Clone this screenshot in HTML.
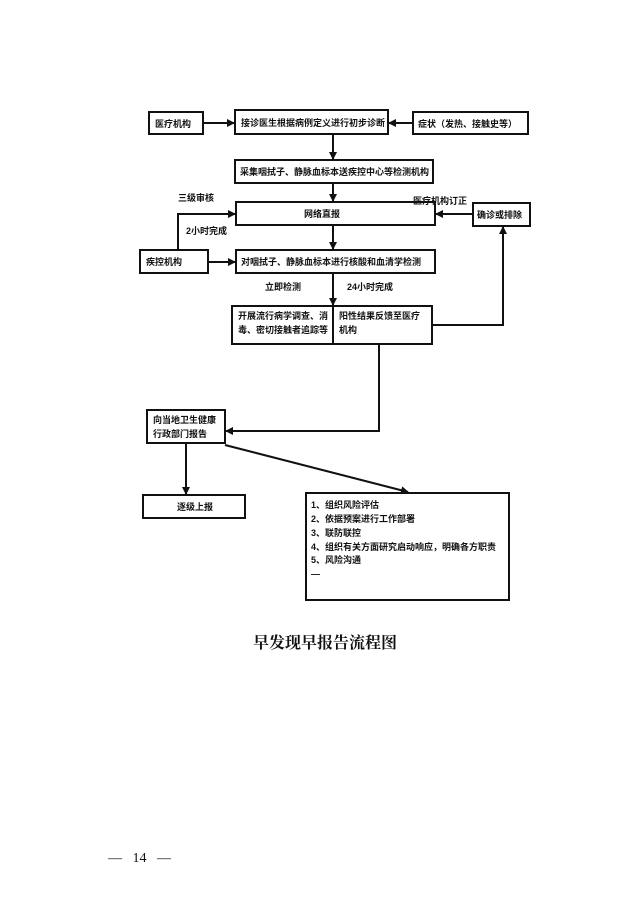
<!DOCTYPE html>
<html><head><meta charset="utf-8"><style>
body{margin:0;background:#fff;}
svg text{font-family:"Liberation Sans","Noto Sans CJK SC",sans-serif;font-weight:bold;fill:#111;}
</style></head><body>
<svg width="639" height="906" viewBox="0 0 639 906" xmlns="http://www.w3.org/2000/svg">
<defs><marker id="a" markerWidth="8" markerHeight="8" refX="7" refY="4" orient="auto" markerUnits="userSpaceOnUse"><path d="M0,0 L8,4 L0,8 z" fill="#111"/></marker></defs>
<g fill="none" stroke="#111" stroke-width="2">
<rect x="149" y="112" width="54" height="22"/>
<rect x="235" y="110" width="153" height="24"/>
<rect x="413" y="112" width="115" height="22"/>
<rect x="235" y="160" width="198" height="23"/>
<rect x="236" y="202" width="199" height="23"/>
<rect x="473" y="203" width="57" height="23"/>
<rect x="140" y="250" width="68" height="23"/>
<rect x="236" y="250" width="199" height="23"/>
<rect x="232" y="306" width="200" height="38"/>
<line x1="333" y1="306" x2="333" y2="344"/>
<rect x="147" y="410" width="78" height="33"/>
<rect x="143" y="495" width="102" height="23"/>
<rect x="306" y="493" width="203" height="107"/>
</g>
<g fill="none" stroke="#111" stroke-width="2" marker-end="url(#a)">
<line x1="203" y1="123" x2="234" y2="123"/>
<line x1="413" y1="123" x2="389" y2="123"/>
<line x1="333" y1="134" x2="333" y2="159"/>
<line x1="333" y1="183" x2="333" y2="201"/>
<line x1="473" y1="214" x2="436" y2="214"/>
<polyline points="178,250 178,214 235,214"/>
<line x1="333" y1="225" x2="333" y2="249"/>
<line x1="208" y1="262" x2="235" y2="262"/>
<line x1="333" y1="273" x2="333" y2="305"/>
<polyline points="432,325 503,325 503,227"/>
<polyline points="379,344 379,431 226,431"/>
<line x1="186" y1="443" x2="186" y2="494"/>
<line x1="225" y1="445" x2="408" y2="492"/>
</g>
<g font-size="9">
<text x="155" y="127">医疗机构</text>
<text x="241" y="126">接诊医生根据病例定义进行初步诊断</text>
<text x="418" y="127">症状（发热、接触史等）</text>
<text x="240" y="175">采集咽拭子、静脉血标本送疾控中心等检测机构</text>
<text x="178" y="201">三级审核</text>
<text x="304" y="217">网络直报</text>
<text x="413" y="204">医疗机构订正</text>
<text x="477" y="218">确诊或排除</text>
<text x="186" y="234">2小时完成</text>
<text x="146" y="265">疾控机构</text>
<text x="241" y="265">对咽拭子、静脉血标本进行核酸和血清学检测</text>
<text x="265" y="290">立即检测</text>
<text x="347" y="290">24小时完成</text>
<text x="238" y="319">开展流行病学调查、消</text>
<text x="238" y="333">毒、密切接触者追踪等</text>
<text x="339" y="319">阳性结果反馈至医疗</text>
<text x="339" y="333">机构</text>
<text x="153" y="423">向当地卫生健康</text>
<text x="153" y="437">行政部门报告</text>
<text x="177" y="510">逐级上报</text>
<text x="311" y="508">1、组织风险评估</text>
<text x="311" y="522">2、依据预案进行工作部署</text>
<text x="311" y="536">3、联防联控</text>
<text x="311" y="550">4、组织有关方面研究启动响应，明确各方职责</text>
<text x="311" y="563">5、风险沟通</text>
<text x="311" y="577">—</text>
</g>
<text x="253" y="648" font-size="16" style="font-family:'Noto Serif CJK SC',serif">早发现早报告流程图</text>
<text x="108" y="862" font-size="14" style="font-family:'Liberation Serif',serif;font-weight:normal" xml:space="preserve">—   14   —</text>
</svg>
</body></html>
